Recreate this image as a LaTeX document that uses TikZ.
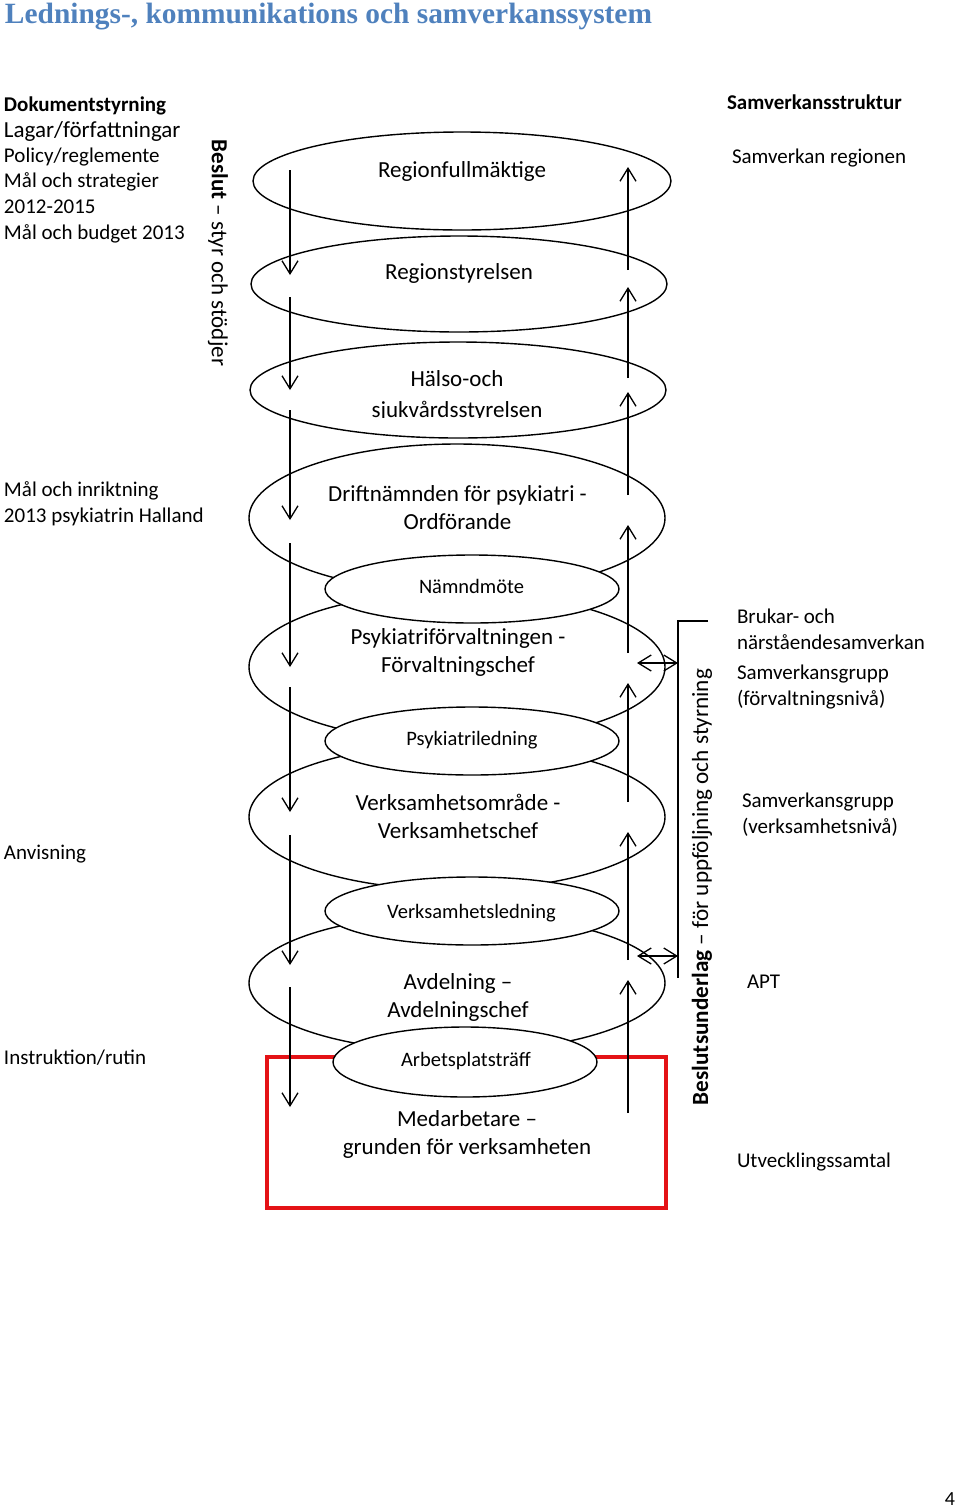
\documentclass[tikz,border=0pt]{standalone}
\usepackage{fontspec}
\usepackage{graphicx}
\setmainfont{Carlito}
\newfontfamily\titlefont{Liberation Serif}
\usetikzlibrary{shapes.geometric,arrows.meta}
\definecolor{titleblue}{RGB}{79,129,189}
\definecolor{boxred}{RGB}{228,18,22}

\begin{document}
\begin{tikzpicture}[x=1pt, y=-1pt, every node/.style = {inner sep=0pt, outer sep=0pt}, big/.style = {ellipse, draw, fill=white, line width=1.4pt, minimum width=416pt}, small/.style = {ellipse, draw, fill=white, line width=1.4pt, minimum width=294pt, minimum height=68pt}, bigtext/.style = {anchor=base, align=center, font=\fontsize{23}{28.5}\selectfont}, smalltext/.style = {anchor=base, font=\fontsize{20.5}{25}\selectfont}, side/.style = {anchor=base west, align=left, font=\fontsize{21}{25.6}\selectfont}, flow/.style = {line width=1.3pt, -{Straight Barb[length=13pt,width=16pt]}}, both/.style = {line width=1.3pt, {Straight Barb[length=13pt,width=16pt]}-{Straight Barb[length=13pt,width=16pt]}}]
\useasboundingbox (0,0) rectangle (960,1508);

% title
\node[anchor=base west] (title) at (5,23) {\resizebox{647pt}{!}{\titlefont\bfseries\color{titleblue}Lednings-, kommunikations och samverkanssystem}};

% levels
\node[big, minimum width=418pt, minimum height=98pt] (fullm) at (462,181) {};
\node[big, minimum height=96pt] (styr) at (459,284) {};
\node[big, minimum height=96pt] (hs) at (458,390) {};
\node[big, minimum height=148pt] (drift) at (457,518) {};
\node[big, minimum height=150pt] (forv) at (457,667) {};
\node[big, minimum height=146pt] (vo) at (457,817) {};
\node[big, minimum height=138pt] (avd) at (457,983) {};
\node[draw=boxred, line width=4pt, minimum width=399pt, minimum height=151pt] (medarb) at (466.5,1132.5) {};

% meetings
\node[small] (namnd) at (472,589) {};
\node[small] (pled) at (472,741) {};
\node[small] (vled) at (472,911) {};
\node[small, minimum width=264pt, minimum height=70pt] (apt) at (465,1062) {};

% texts in the levels (base = last line)
\node[bigtext] (fullm-t) at (462,177) {Regionfullmäktige};
\node[bigtext] (styr-t) at (459,279) {Regionstyrelsen};
\node[bigtext] (hs-t) at (457,386) {Hälso-och};
\begin{scope}
\clip (250,395) rectangle (666,417);
\node[bigtext] (hs-t2) at (457,417) {sjukvårdsstyrelsen};
\end{scope}
\node[bigtext] (drift-t) at (457.5,529.5) {Driftnämnden för psykiatri -\\Ordförande};
\node[bigtext] (forv-t) at (458,672.5) {Psykiatriförvaltningen -\\Förvaltningschef};
\node[bigtext] (vo-t) at (458,838.5) {Verksamhetsområde -\\Verksamhetschef};
\node[bigtext] (avd-t) at (458,1017.5) {Avdelning –\\Avdelningschef};
\node[bigtext] (medarb-t) at (467,1154.5) {Medarbetare –\\grunden för verksamheten};
\node[smalltext] (namnd-t) at (471.5,593) {Nämndmöte};
\node[smalltext] (pled-t) at (472,745) {Psykiatriledning};
\node[smalltext] (vled-t) at (471.5,918) {Verksamhetsledning};
\node[smalltext] (apt-t) at (466,1066) {Arbetsplatsträff};

% beslut down, underlag up
\foreach \a/\b in {170/275, 297/390, 410/520, 543/667, 687/812, 835/965, 987/1107}
  \draw[flow] (290,\a) -- (290,\b);
\foreach \a/\b in {270/167, 378/287, 495/392, 653/525, 802/683, 960/832, 1113/980}
  \draw[flow] (628,\a) -- (628,\b);

% bracket to the samverkan side
\coordinate (brtop) at (708,621);
\coordinate (brbot) at (678,978);
\coordinate (d1) at (637,663);
\coordinate (d2) at (637,956);
\draw[line width=1.3pt] (brtop) -| (brbot);
\draw[both] (d1) -- (d1 -| brbot);
\draw[both] (d2) -- (d2 -| brbot);

\node[rotate=-90, font=\fontsize{23}{28}\selectfont] (beslut) at (218,253) {\textbf{Beslut} – styr och stödjer};
\node[rotate=90, font=\fontsize{23.2}{28}\selectfont] (underlag) at (702,887) {\textbf{Beslutsunderlag} – för uppföljning och styrning};

% left column
\node[side] (dok) at (4,111) {\textbf{Dokumentstyrning}};
\node[side, font=\fontsize{23}{26}\selectfont] (lagar) at (4,137) {Lagar/författningar};
\node[side] (policy) at (4,239) {Policy/reglemente\\Mål och strategier\\2012-2015\\Mål och budget 2013};
\node[side] (inrikt) at (4,522) {Mål och inriktning\\2013 psykiatrin Halland};
\node[side] (anvis) at (4,859) {Anvisning};
\node[side] (instr) at (4,1064) {Instruktion/rutin};

% right column
\node[side] (struktur) at (727,109) {\textbf{Samverkansstruktur}};
\node[side] (region) at (732,163) {Samverkan regionen};
\node[side] (brukar) at (737,649) {Brukar- och\\närståendesamverkan};
\node[side] (sgforv) at (737,705) {Samverkansgrupp\\(förvaltningsnivå)};
\node[side] (sgverks) at (742,833) {Samverkansgrupp\\(verksamhetsnivå)};
\node[side] (aptr) at (747,988) {APT};
\node[side] (utv) at (737,1167) {Utvecklingssamtal};

\node[anchor=base, font=\fontsize{20}{24}\selectfont] (page) at (950,1505) {4};
\end{tikzpicture}
\end{document}
